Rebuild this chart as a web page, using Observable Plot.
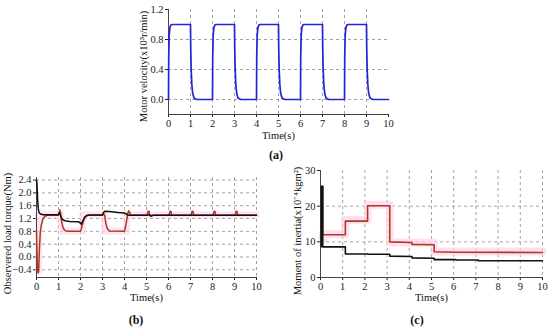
<!DOCTYPE html>
<html>
<head>
<meta charset="utf-8">
<script src="https://cdn.jsdelivr.net/npm/d3@7"></script>
<script src="https://cdn.jsdelivr.net/npm/@observablehq/plot@0.6"></script>
<style>
  html, body { margin: 0; padding: 0; background: #fff; }
  #wrap { position: relative; width: 550px; height: 331px; background: #fff; overflow: hidden; font-family: "Liberation Serif", "Times New Roman", serif; }
  .panel { position: absolute; }
  .tag { position: absolute; font-weight: bold; font-size: 12px; color: #111; transform: translate(-50%, -50%); }
</style>
</head>
<body>
<div id="wrap"></div>
<script>
// ---------- shared ----------
const timeTicks = [0, 1, 2, 3, 4, 5, 6, 7, 8, 9, 10];
const timeTitle = "Time(s)";

// ---------- (a) motor velocity ----------
const velTitle = "Motor velocity(x10³r/min)";
const velTicks = [0.0, 0.4, 0.8, 1.2];
const velGridY = [0.0, 0.4, 0.8];
const velGridX = [1, 2, 3, 4, 5, 6, 7, 8, 9];
const velT = [
  0, 0.01, 0.03, 0.06, 0.1, 0.16, 1.0, 1.01, 1.03, 1.06, 1.1, 1.16, 1.28,
  2.0, 2.01, 2.03, 2.06, 2.1, 2.16, 3.0, 3.01, 3.03, 3.06, 3.1, 3.16, 3.28,
  4.0, 4.01, 4.03, 4.06, 4.1, 4.16, 5.0, 5.01, 5.03, 5.06, 5.1, 5.16, 5.28,
  6.0, 6.01, 6.03, 6.06, 6.1, 6.16, 7.0, 7.01, 7.03, 7.06, 7.1, 7.16, 7.28,
  8.0, 8.01, 8.03, 8.06, 8.1, 8.16, 9.0, 9.01, 9.03, 9.06, 9.1, 9.16, 9.28,
  10
];
const velV = [
  0, 0.55, 0.85, 0.95, 0.99, 1.0, 1.0, 0.7, 0.4, 0.2, 0.08, 0.02, 0.0,
  0, 0.55, 0.85, 0.95, 0.99, 1.0, 1.0, 0.7, 0.4, 0.2, 0.08, 0.02, 0.0,
  0, 0.55, 0.85, 0.95, 0.99, 1.0, 1.0, 0.7, 0.4, 0.2, 0.08, 0.02, 0.0,
  0, 0.55, 0.85, 0.95, 0.99, 1.0, 1.0, 0.7, 0.4, 0.2, 0.08, 0.02, 0.0,
  0, 0.55, 0.85, 0.95, 0.99, 1.0, 1.0, 0.7, 0.4, 0.2, 0.08, 0.02, 0.0,
  0
];

// ---------- (b) observed load torque ----------
const torqueTitle = "Observered load torque(Nm)";
const torqueTicks = [-0.4, 0.0, 0.4, 0.8, 1.2, 1.6, 2.0, 2.4];
const torqueGridX = [1, 2, 3, 4, 5, 6, 7, 8, 9, 10];
const torqueBlackT = [0, 0.02, 0.05, 0.08, 0.12, 0.18, 0.3, 1.0, 1.04, 1.08, 1.13, 1.2, 1.3, 1.5, 1.9, 2.0, 2.04, 2.1, 2.2, 2.32, 2.5, 3.0, 3.04, 3.1, 3.3, 3.7, 4.0, 4.06, 4.15, 4.25, 5.05, 5.12, 5.2, 5.3, 10];
const torqueBlackV = [2.4, 2.3, 1.8, 1.5, 1.38, 1.34, 1.32, 1.32, 1.38, 1.33, 1.22, 1.16, 1.13, 1.11, 1.1, 1.06, 1.02, 1.12, 1.25, 1.3, 1.31, 1.31, 1.38, 1.43, 1.42, 1.39, 1.37, 1.35, 1.31, 1.3, 1.3, 1.32, 1.27, 1.3, 1.3];
const torqueRedT = [0, 0.04, 0.07, 0.1, 0.13, 0.17, 0.22, 0.3, 0.4, 0.5, 1.0, 1.03, 1.06, 1.09, 1.13, 1.2, 1.28, 1.4, 2.0, 2.05, 2.12, 2.2, 2.3, 3.0, 3.05, 3.1, 3.15, 3.22, 3.32, 4.0, 4.05, 4.1, 4.15, 4.19, 4.23, 4.28, 5.03, 5.07, 5.11, 5.15, 6.03, 6.07, 6.11, 6.15, 7.03, 7.07, 7.11, 7.15, 8.03, 8.07, 8.11, 8.15, 9.03, 9.07, 9.11, 9.15, 10];
const torqueRedV = [0.8, -0.3, -0.5, -0.45, 0.2, 0.75, 1.0, 1.2, 1.28, 1.3, 1.3, 1.4, 1.47, 1.4, 1.15, 0.92, 0.83, 0.8, 0.8, 0.9, 1.1, 1.25, 1.3, 1.3, 1.35, 1.3, 1.05, 0.88, 0.81, 0.8, 0.95, 1.15, 1.35, 1.44, 1.4, 1.3, 1.3, 1.43, 1.43, 1.3, 1.3, 1.43, 1.43, 1.3, 1.3, 1.43, 1.43, 1.3, 1.3, 1.43, 1.43, 1.3, 1.3, 1.43, 1.43, 1.3, 1.3];
const torquePinkT = [0.1, 0.1, 1.1, 1.1, 2.1, 2.1, 3.1, 3.1, 4.1, 4.1, 10];
const torquePinkV = [-0.45, 1.32, 1.32, 0.8, 0.8, 1.32, 1.32, 0.8, 0.8, 1.32, 1.32];

// ---------- (c) moment of inertia ----------
const inertiaTitle = "Moment of inertia(x10⁻⁴kgm²)";
const inertiaTicks = [0, 10, 20, 30];
const inertiaGridY = [10, 20];
const inertiaGridX = [1, 2, 3, 4, 5, 6, 7, 8, 9, 10];
const inertiaBlackT = [0.04, 0.04, 0.1, 0.1, 1.12, 1.12, 2.12, 2.12, 3.12, 3.12, 4.12, 4.12, 5.12, 5.12, 6.1, 6.1, 7.1, 7.1, 8.1, 10];
const inertiaBlackV = [8.6, 25.6, 25.6, 8.6, 8.6, 6.6, 6.6, 6.5, 6.5, 6.0, 5.9, 5.5, 5.4, 5.0, 5.0, 4.9, 4.9, 4.7, 4.7, 4.7];
const inertiaRedT = [0.1, 0.1, 1.12, 1.12, 2.12, 2.12, 3.12, 3.12, 4.12, 4.12, 5.12, 5.12, 6.1, 10];
const inertiaRedV = [25.6, 12.0, 12.0, 15.8, 15.8, 20.1, 20.1, 10.0, 9.8, 9.3, 9.2, 7.2, 7.1, 7.0];
const inertiaPinkT = [0.1, 0.1, 1.12, 1.12, 2.12, 2.12, 3.12, 3.12, 5.12, 5.12, 10];
const inertiaPinkV = [11, 12.2, 12.2, 16.2, 16.2, 20.4, 20.4, 9.8, 9.8, 7.3, 7.3];

// ---------- helpers ----------
const rows = (T, V) => T.map((t, i) => ({t, v: V[i]}));
const gridStyle = {stroke: "#8c8c8c", strokeDasharray: "3,3", strokeWidth: 0.8};
const axisStyle = {stroke: "#444", strokeWidth: 1};
const FONT = "'Liberation Serif', 'Times New Roman', serif";
const baseStyle = {fontFamily: FONT, fontSize: "10.5px", color: "#222", background: "transparent", overflow: "visible"};
const RED = "#ad3a1e";
const PINK = "#ffd3ec";
const wrap = document.getElementById("wrap");
const yTitle = (s, dx, dy) => Plot.text([s], {text: d => d, frameAnchor: "left", textAnchor: "middle", lineAnchor: "middle", rotate: -90, dx, dy, fontSize: 10.5, fill: "#111", fontFamily: FONT});
const xTitle = (dy) => Plot.text([timeTitle], {text: d => d, frameAnchor: "bottom", textAnchor: "middle", lineAnchor: "middle", dy, fontSize: 10.5, fill: "#111", fontFamily: FONT});

function place(svg, left, top) {
  const d = document.createElement("div");
  d.className = "panel";
  d.style.left = left + "px";
  d.style.top = top + "px";
  d.appendChild(svg);
  wrap.appendChild(d);
}
function tag(text, x, y) {
  const s = document.createElement("div");
  s.className = "tag";
  s.style.left = x + "px";
  s.style.top = y + "px";
  s.textContent = text;
  wrap.appendChild(s);
}

// ---------- panel (a) ----------
place(Plot.plot({
  width: 290, height: 150,
  marginLeft: 48, marginRight: 22, marginTop: 9, marginBottom: 36,
  style: baseStyle,
  x: {domain: [0, 10], ticks: timeTicks, tickFormat: d => String(d), tickSize: 3, tickPadding: 2, label: null},
  y: {domain: [-0.2, 1.2], ticks: velTicks, tickFormat: d3.format(".1f"), tickSize: 3, tickPadding: 2, label: null},
  marks: [
    Plot.ruleX(velGridX, gridStyle),
    Plot.ruleY(velGridY, gridStyle),
    Plot.ruleX([0], axisStyle),
    Plot.ruleY([-0.2], axisStyle),
    Plot.line(rows(velT, velV), {x: "t", y: "v", stroke: "#2424d6", strokeWidth: 1.7}),
    yTitle(velTitle, -25, 4.5),
    xTitle(21)
  ]
}), 120, 0);

// ---------- panel (b) ----------
place(Plot.plot({
  width: 270, height: 150,
  marginLeft: 36, marginRight: 14, marginTop: 17, marginBottom: 33,
  style: baseStyle,
  x: {domain: [0, 10], ticks: timeTicks, tickFormat: d => String(d), tickSize: 3, tickPadding: 2, label: null},
  y: {domain: [-0.64, 2.48], ticks: torqueTicks, tickFormat: d3.format(".1f"), tickSize: 3, tickPadding: 2, label: null},
  marks: [
    Plot.ruleX(torqueGridX, gridStyle),
    Plot.ruleY(torqueTicks, gridStyle),
    Plot.line(rows(torquePinkT, torquePinkV), {x: "t", y: "v", stroke: PINK, strokeWidth: 7, strokeOpacity: 0.6}),
    Plot.ruleX([0], axisStyle),
    Plot.ruleY([-0.64], axisStyle),
    Plot.line(rows(torqueRedT, torqueRedV), {x: "t", y: "v", stroke: RED, strokeWidth: 1.5}),
    Plot.line(rows(torqueBlackT, torqueBlackV), {x: "t", y: "v", stroke: "#111", strokeWidth: 1.5}),
    yTitle(torqueTitle, -29, 6),
    xTitle(20)
  ]
}), 0, 160);

// ---------- panel (c) ----------
place(Plot.plot({
  width: 275, height: 150,
  marginLeft: 45, marginRight: 8, marginTop: 10, marginBottom: 33,
  style: baseStyle,
  x: {domain: [0, 10], ticks: timeTicks, tickFormat: d => String(d), tickSize: 3, tickPadding: 2, label: null},
  y: {domain: [0, 30], ticks: inertiaTicks, tickFormat: d => String(d), tickSize: 3, tickPadding: 2, label: null},
  marks: [
    Plot.ruleX(inertiaGridX, gridStyle),
    Plot.ruleY(inertiaGridY, gridStyle),
    Plot.line(rows(inertiaPinkT, inertiaPinkV), {x: "t", y: "v", stroke: PINK, strokeWidth: 8, strokeOpacity: 0.7}),
    Plot.ruleX([0], axisStyle),
    Plot.ruleY([0], axisStyle),
    Plot.line(rows(inertiaRedT, inertiaRedV), {x: "t", y: "v", stroke: RED, strokeWidth: 1.6}),
    Plot.line(rows(inertiaBlackT, inertiaBlackV), {x: "t", y: "v", stroke: "#111", strokeWidth: 1.6}),
    yTitle(inertiaTitle, -23, 7),
    xTitle(20)
  ]
}), 275, 160);

// ---------- sub-figure tags ----------
tag("(a)", 276, 155);
tag("(b)", 136, 320);
tag("(c)", 417, 320);
</script>
</body>
</html>
